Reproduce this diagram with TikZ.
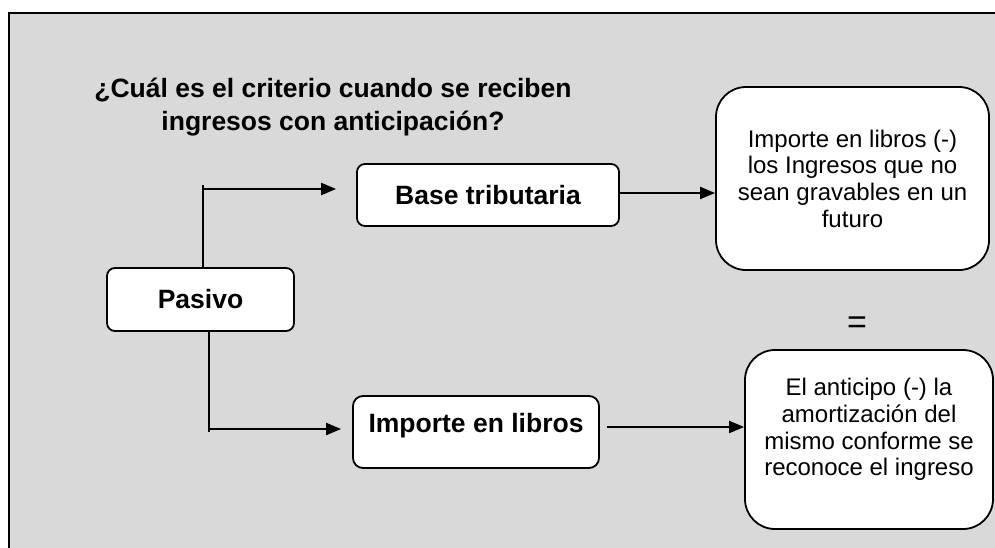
\documentclass[tikz,border=0pt]{standalone}
\usepackage{fontspec}
\setmainfont{Liberation Sans}
\usetikzlibrary{arrows.meta}
\definecolor{fondo}{RGB}{217,217,217}
\tikzset{
  caja/.style={draw,fill=white,line width=1.8pt,rounded corners=8pt,inner sep=0pt,
    font=\fontsize{26.5}{30}\selectfont\bfseries},
  globo/.style={draw,fill=white,line width=1.8pt,rounded corners=30pt,inner sep=0pt,
    align=center,font=\fontsize{24}{26.7}\selectfont},
}
\begin{document}
\begin{tikzpicture}[x=1pt,y=-1pt,>={Triangle[length=15pt,width=12pt]},line width=2pt]
% fondo y marco
\useasboundingbox (0,0) rectangle (995,547);
\fill[white] (0,0) rectangle (995,547);
\clip (0,0) rectangle (995,547);
\filldraw[fill=fondo,draw=black,line width=1.4pt] (9,13) rectangle (1010,560);
% pregunta
\node[font=\fontsize{26.5}{33}\selectfont\bfseries,align=center] (pregunta) at (333,107)
  {¿Cuál es el criterio cuando se reciben\\ingresos con anticipación?};
% cajas
\node[caja,minimum width=187pt,minimum height=63pt] (pasivo) at (200.5,299.5) {Pasivo};
\node[caja,minimum width=262pt,minimum height=62pt] (base) at (488,195) {Base tributaria};
\node[caja,minimum width=246pt,minimum height=72pt,rounded corners=10pt,
  text height=19pt,text depth=19pt] (libros) at (476,432) {Importe en libros};
\node[globo,minimum width=273pt,minimum height=183pt] (gravable) at (852.5,178.5)
  {Importe en libros (-)\\los Ingresos que no\\sean gravables en un\\futuro};
\node[globo,minimum width=248pt,minimum height=179pt,text depth=25pt] (anticipo) at (869,439.5)
  {El anticipo (-) la\\amortización del\\mismo conforme se\\reconoce el ingreso};
\node[font=\fontsize{34}{34}\selectfont] (igual) at (857,325) {=};
% conectores
\coordinate (arriba) at (203,189);
\coordinate (abajo) at (209,429);
\draw ([xshift=2.5pt]pasivo.north) -- ([yshift=4pt]arriba);
\draw[->] (arriba) -- ([xshift=-20pt]arriba -| base.west);
\draw ([xshift=8.5pt]pasivo.south) -- ([yshift=-3pt]abajo);
\draw[->] (abajo) -- ([xshift=-11pt]abajo -| libros.west);
\draw[->] ([yshift=2pt]base.east) coordinate (b1) -- (b1 -| gravable.west);
\draw[->] ([shift={(7pt,5pt)}]libros.east) coordinate (l1) -- (l1 -| anticipo.west);
\end{tikzpicture}
\end{document}
